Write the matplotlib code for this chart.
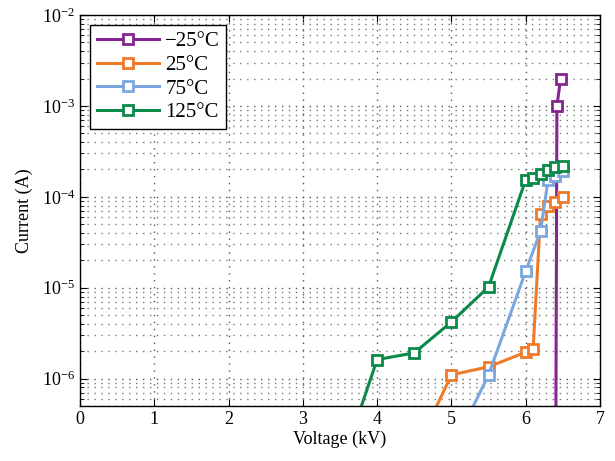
import matplotlib
matplotlib.use("Agg")
import matplotlib.pyplot as plt
from matplotlib.ticker import LogLocator, NullFormatter, MultipleLocator

plt.rcParams['font.family'] = ['Liberation Serif', 'DejaVu Serif']
plt.rcParams['mathtext.fontset'] = 'stix'

labels = ['\u221225\u00b0C', '25\u00b0C', '75\u00b0C', '125\u00b0C']
colors = ['#84268F', '#F07A28', '#7AA8DE', '#0A8A48']

v_m25 = [6.40, 6.42, 6.47]
i_m25 = [1e-8, 1.0e-3, 2.0e-3]

v_25 = [4.5, 5.0, 5.5, 6.0, 6.1, 6.2, 6.3, 6.4, 6.5]
i_25 = [1.5e-7, 1.1e-6, 1.35e-6, 1.95e-6, 2.1e-6, 6.5e-5, 7.9e-5, 8.8e-5, 1.0e-4]

v_75 = [5.0, 5.5, 6.0, 6.2, 6.3, 6.4, 6.5]
i_75 = [1.6e-7, 1.1e-6, 1.52e-5, 4.2e-5, 1.52e-4, 1.7e-4, 1.9e-4]

v_125 = [3.5, 4.0, 4.5, 5.0, 5.5, 6.0, 6.1, 6.2, 6.3, 6.4, 6.5]
i_125 = [1.0e-7, 1.62e-6, 1.92e-6, 4.2e-6, 1.02e-5, 1.54e-4, 1.6e-4, 1.8e-4, 1.98e-4, 2.14e-4, 2.2e-4]

series = [(v_m25, i_m25), (v_25, i_25), (v_75, i_75), (v_125, i_125)]

fig = plt.figure(figsize=(6.15, 4.61), dpi=100)
ax = fig.add_axes([0.130, 0.1193, 0.8456, 0.8482])

for (v, i), lab, c in zip(series, labels, colors):
    ax.plot(v, i, '-s', color=c, lw=2.2, ms=6.5, mfc='white', mec=c, mew=2, label=lab)

ax.set_yscale('log')
ax.set_xlim(0, 7)
ax.set_ylim(5e-7, 1e-2)
ax.xaxis.set_major_locator(MultipleLocator(1))
ax.yaxis.set_major_locator(LogLocator(base=10, numticks=10))
ax.yaxis.set_minor_locator(LogLocator(base=10, subs=range(2, 10), numticks=20))
ax.yaxis.set_minor_formatter(NullFormatter())

ax.grid(True, which='major', linestyle=(0, (1, 4)), color='#555555', lw=1.0)
ax.grid(True, which='minor', axis='y', linestyle=(0, (1, 4)), color='#777777', lw=1.0)
ax.tick_params(which='both', direction='in', top=True, right=True, labelsize=13)
ax.tick_params(which='major', length=5)
ax.tick_params(which='minor', length=3)
for s in ax.spines.values():
    s.set_linewidth(1.0)

ax.set_xlabel('Voltage (kV)', fontsize=13, labelpad=2)
ax.set_ylabel('Current (A)', fontsize=13, labelpad=6)

leg = ax.legend(loc='upper left', fontsize=15, fancybox=False, framealpha=1,
                edgecolor='black', handlelength=3.0, borderpad=0.3, labelspacing=0.2,
                handletextpad=0.3, borderaxespad=0.5)
leg.get_frame().set_linewidth(1.0)

fig.savefig('out.png', dpi=100)
